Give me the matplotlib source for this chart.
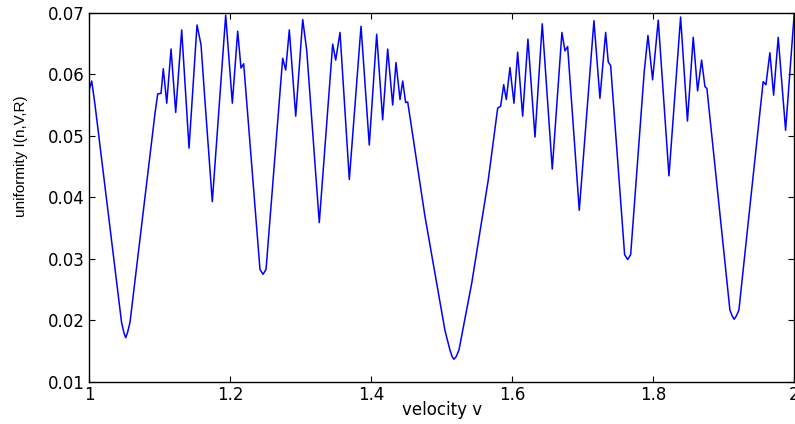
import matplotlib
matplotlib.use("Agg")
import matplotlib.pyplot as plt

plt.rcParams['font.family'] = ['DejaVu Sans']

# velocity v vs uniformity
velocity = [1.000, 1.0038, 1.0085, 1.0461, 1.0495, 1.052, 1.0545, 1.0581, 1.0936, 1.0974,
            1.1021, 1.1053, 1.1102, 1.1163, 1.1229, 1.1314, 1.1418, 1.1531, 1.1588, 1.1645,
            1.1748, 1.1938, 1.2032, 1.2108, 1.2155, 1.2193, 1.2424, 1.2467, 1.2510, 1.2746,
            1.2789, 1.2840, 1.2931, 1.3030, 1.3087, 1.3265, 1.3417, 1.3455, 1.3498, 1.3559,
            1.3691, 1.3857, 1.3974, 1.4079, 1.4164, 1.4235, 1.4306, 1.4353, 1.4410, 1.4448,
            1.4490, 1.4519, 1.4764, 1.5047, 1.5118, 1.5150, 1.5175, 1.5205, 1.5246, 1.5426,
            1.5661, 1.5795, 1.5837, 1.5880, 1.5917, 1.5969, 1.6026, 1.6078, 1.6149, 1.6224,
            1.6324, 1.6427, 1.6569, 1.6706, 1.6749, 1.6787, 1.6952, 1.7160, 1.7245, 1.7326,
            1.7363, 1.7397, 1.7595, 1.7638, 1.7681, 1.7873, 1.7926, 1.7992, 1.8072, 1.8224,
            1.8389, 1.8486, 1.8568, 1.8630, 1.8687, 1.8734, 1.8762, 1.9088, 1.9122, 1.9149,
            1.9178, 1.9216, 1.9560, 1.9599, 1.9655, 1.9708, 1.9773, 1.9878, 2.000]
uniformity = [0.0574, 0.0589, 0.0550, 0.0197, 0.0180, 0.0172, 0.0180, 0.0197, 0.0537, 0.0568,
              0.0569, 0.0609, 0.0553, 0.0641, 0.0538, 0.0672, 0.0480, 0.0680, 0.0648, 0.0555,
              0.0393, 0.0696, 0.0553, 0.0670, 0.0610, 0.0617, 0.0283, 0.0275, 0.0283, 0.0626,
              0.0607, 0.0672, 0.0532, 0.0689, 0.0639, 0.0359, 0.0591, 0.0649, 0.0623, 0.0668,
              0.0429, 0.0678, 0.0485, 0.0665, 0.0526, 0.0641, 0.0550, 0.0619, 0.0559, 0.0589,
              0.0554, 0.0555, 0.0369, 0.0184, 0.0152, 0.0141, 0.0137, 0.0141, 0.0152, 0.0260,
              0.0428, 0.0545, 0.0548, 0.0583, 0.0559, 0.0611, 0.0553, 0.0636, 0.0532, 0.0657,
              0.0498, 0.0682, 0.0446, 0.0668, 0.0638, 0.0645, 0.0379, 0.0687, 0.0561, 0.0668,
              0.0620, 0.0614, 0.0307, 0.0299, 0.0307, 0.0604, 0.0663, 0.0591, 0.0688, 0.0435,
              0.0693, 0.0524, 0.0660, 0.0573, 0.0623, 0.0580, 0.0577, 0.0217, 0.0207, 0.0202,
              0.0207, 0.0217, 0.0588, 0.0583, 0.0635, 0.0566, 0.0660, 0.0509, 0.0698]

xticks = [1, 1.2, 1.4, 1.6, 1.8, 2]
xlabels = ['1', '1.2', '1.4', '1.6', '1.8', '2']
yticks = [0.01, 0.02, 0.03, 0.04, 0.05, 0.06, 0.07]
ylabels = ['0.01', '0.02', '0.03', '0.04', '0.05', '0.06', '0.07']

fig = plt.figure(figsize=(7.95, 4.24), dpi=100)
ax = fig.add_axes([0.112, 0.099, 0.887, 0.871])
ax.plot(velocity, uniformity, color='#0000ff', linewidth=1.1)

ax.set_xlim(1, 2)
ax.set_ylim(0.01, 0.07)
ax.set_xticks(xticks)
ax.set_xticklabels(xlabels)
ax.set_yticks(yticks)
ax.set_yticklabels(ylabels)
ax.tick_params(direction='in', length=4, top=True, right=True, labelsize=12, pad=3)
for s in ax.spines.values():
    s.set_linewidth(1.0)

ax.set_xlabel('velocity v', fontsize=12, labelpad=-2)
ax.set_ylabel('uniformity I(n,V,R)', fontsize=11, family='Liberation Sans')
ax.yaxis.set_label_coords(-0.087, 0.612)

fig.savefig('out.png', dpi=100)
